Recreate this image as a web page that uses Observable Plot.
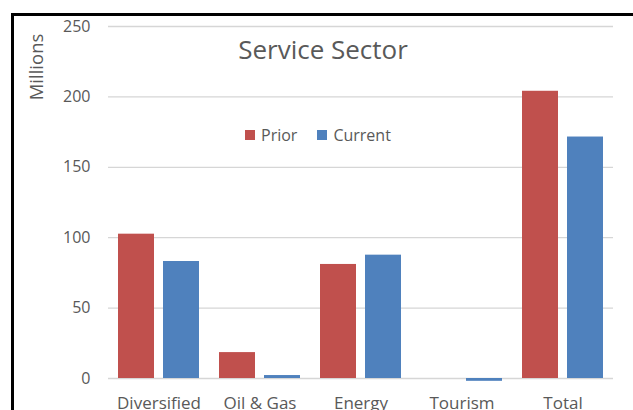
<!DOCTYPE html>
<html>
<head>
<meta charset="utf-8">
<script src="https://cdn.jsdelivr.net/npm/d3@7"></script>
<script src="https://cdn.jsdelivr.net/npm/@observablehq/plot@0.6"></script>
<style>
  html, body { margin: 0; padding: 0; background: #fff; }
  #wrap { position: relative; width: 633px; height: 410px; overflow: hidden; font-family: "Open Sans", sans-serif; }
  #chart svg { display: block; }
  #border { position: absolute; left: 11px; top: 13px; width: 700px; height: 500px; border-left: 3px solid #000; border-top: 3px solid #000; box-sizing: border-box; pointer-events: none; }
  #title { position: absolute; left: 0; width: 646px; top: 36px; text-align: center; font-size: 26px; color: #595959; line-height: 1; }
  #ylabel { position: absolute; left: 36px; top: 67px; transform: translate(-50%, -50%) rotate(-90deg); font-size: 18.5px; color: #595959; white-space: nowrap; line-height: 1; }
  #legend { position: absolute; top: 127px; left: 245px; font-size: 16px; color: #595959; display: flex; align-items: center; line-height: 1; }
  #legend .item { display: flex; align-items: center; margin-right: 20px; }
  #legend .sw { width: 10px; height: 10px; margin-right: 6px; }
</style>
</head>
<body>
<div id="wrap">
  <div id="chart"></div>
  <div id="title">Service Sector</div>
  <div id="ylabel">Millions</div>
  <div id="legend"></div>
  <div id="border"></div>
</div>
<script>
const categories = ["Diversified", "Oil & Gas", "Energy", "Tourism", "Total"];
const series = ["Prior", "Current"];
const prior = [102.5, 18.4, 81, 0, 204];
const current = [83.1, 2.1, 87.6, -2, 171.5];
const yTicks = [0, 50, 100, 150, 200, 250];
const colors = ["#C0504D", "#4F81BD"];

const rows = [];
categories.forEach((c, i) => {
  rows.push({category: c, series: "Prior", value: prior[i]});
  rows.push({category: c, series: "Current", value: current[i]});
});

const chart = Plot.plot({
  width: 633,
  height: 410,
  marginTop: 26,
  marginBottom: 32,
  marginLeft: 107,
  marginRight: 20,
  style: {fontFamily: "Open Sans, sans-serif", background: "#fff"},
  fx: {domain: categories, padding: 0, label: null},
  x: {domain: series, padding: 0.2, axis: null},
  y: {domain: [0, 250], label: null},
  color: {domain: series, range: colors},
  marks: [
    Plot.ruleY(yTicks, {stroke: "#d6d6d6", strokeWidth: 1.3}),
    Plot.barY(rows, {fx: "category", x: "series", y: "value", fill: "series"}),
    Plot.axisY(yTicks, {tickSize: 0, tickPadding: 18, fontSize: 16, fill: "#595959", label: null}),
    Plot.axisFx({anchor: "bottom", tickSize: 0, tickPadding: 18, fontSize: 17, fill: "#595959", label: null})
  ]
});
document.getElementById("chart").appendChild(chart);

const legend = document.getElementById("legend");
series.forEach((s, i) => {
  const item = document.createElement("div");
  item.className = "item";
  const sw = document.createElement("span");
  sw.className = "sw";
  sw.style.background = colors[i];
  const t = document.createElement("span");
  t.textContent = s;
  item.appendChild(sw);
  item.appendChild(t);
  legend.appendChild(item);
});
</script>
</body>
</html>
